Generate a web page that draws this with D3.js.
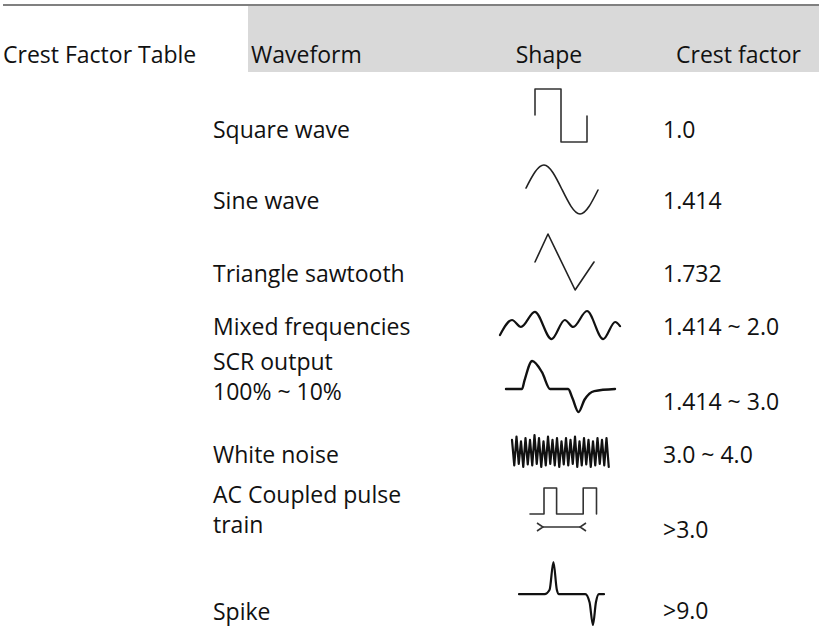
<!DOCTYPE html>
<html>
<head>
<meta charset="utf-8">
<script src="https://cdn.jsdelivr.net/npm/d3@7"></script>
<style>
  body { margin: 0; background: #fff; }
  text { font-family: "Open Sans", "Noto Sans", sans-serif; fill: #111; }
</style>
</head>
<body>
<div id="table"></div>
<script>
var width = 819,
    height = 626;

// table content
var title = "Crest Factor Table";
var headers = ["Waveform", "Shape", "Crest factor"];
var waveforms = [
    ["Square wave"],
    ["Sine wave"],
    ["Triangle sawtooth"],
    ["Mixed frequencies"],
    ["SCR output", "100% ~ 10%"],
    ["White noise"],
    ["AC Coupled pulse", "train"],
    ["Spike"]
];
var crestFactors = ["1.0", "1.414", "1.732", "1.414 ~ 2.0", "1.414 ~ 3.0", "3.0 ~ 4.0", ">3.0", ">9.0"];

// shape outlines, x 0..1 across, y 0 (bottom) .. 1 (top)
var squareWave = [[0, 0.51], [0, 1], [0.5, 1], [0.5, 0], [1, 0], [1, 0.49]];
var sineWave = [[0, 0.53], [0.25, 1], [0.5, 0.5], [0.75, 0], [1, 0.49]];
var triangleWave = [[0, 0.5], [0.22, 1], [0.68, 0], [1, 0.5]];
var mixedWave = [[0, 0.17], [0.1, 0.69], [0.175, 0.45], [0.29, 0.97], [0.43, 0.03], [0.54, 0.69],
    [0.61, 0.45], [0.725, 1], [0.86, 0.03], [0.96, 0.62], [1, 0.48]];
var scrWave = [[0, 0.45], [0.147, 0.45], [0.17, 0.62], [0.24, 1], [0.33, 0.78], [0.405, 0.45],
    [0.57, 0.45], [0.61, 0.27], [0.665, 0], [0.72, 0.24], [0.81, 0.41], [1, 0.45]];
var noiseTops = [0.85, 0.95, 0.8, 0.9, 0.85, 1, 0.9, 0.8, 0.95, 0.85, 0.9, 0.8, 0.9, 0.85, 0.95, 0.8, 0.9, 0.85, 0.8, 0.9, 0.85, 0.9];
var noiseBottoms = [0.05, 0.1, 0, 0.08, 0.05, 0.1, 0, 0.05, 0.1, 0.05, 0, 0.08, 0.05, 0.1, 0, 0.05, 0.08, 0, 0.05, 0.1, 0.05, 0];
var pulseTrain = [[0, 0], [0.2, 0], [0.2, 1], [0.38, 1], [0.38, 0], [0.76, 0], [0.76, 1], [0.95, 1], [0.95, 0]];
var spikeWave = [[0, 0.49], [0.3, 0.49], [0.36, 0.56], [0.405, 1], [0.445, 0.56], [0.47, 0.49],
    [0.78, 0.49], [0.83, 0.36], [0.87, 0], [0.905, 0.36], [0.94, 0.49], [1, 0.49]];

// layout
var rowY = [138, 209, 282, 335, 370, 463, 503, 620];
var lineGap = 30;
var valueY = [138, 209, 282, 335, 410, 463, 538, 619];

var svg = d3.select("#table")
    .append("svg")
    .attr("width", width)
    .attr("height", height);

svg.append("rect")
    .attr("x", 248).attr("y", 6)
    .attr("width", width - 248).attr("height", 66)
    .style("fill", "#d9d9d9");

svg.append("line")
    .attr("x1", 3).attr("x2", width)
    .attr("y1", 5).attr("y2", 5)
    .style("stroke", "#808080")
    .style("stroke-width", 2);

svg.append("text")
    .attr("x", 3).attr("y", 63)
    .style("font-size", "23px")
    .text(title);

var headerX = [251, 549, 676];
svg.selectAll(".header")
    .data(headers)
    .enter().append("text")
    .attr("class", "header")
    .attr("x", function(d, i) { return headerX[i]; })
    .attr("y", 63)
    .style("text-anchor", function(d, i) { return i == 1 ? "middle" : "start"; })
    .style("font-size", "23px")
    .text(function(d) { return d; });

var label = svg.selectAll(".label")
    .data(waveforms)
    .enter().append("text")
    .attr("class", "label")
    .style("font-size", "23px");

label.selectAll("tspan")
    .data(function(d, i) { return d.map(function(t) { return {t: t, row: i}; }); })
    .enter().append("tspan")
    .attr("x", 213)
    .attr("y", function(d, j) { return rowY[d.row] + j * lineGap; })
    .text(function(d) { return d.t; });

svg.selectAll(".value")
    .data(crestFactors)
    .enter().append("text")
    .attr("class", "value")
    .attr("x", 663)
    .attr("y", function(d, i) { return valueY[i]; })
    .style("font-size", "23px")
    .text(function(d) { return d; });

// draw a shape into its box
function drawShape(points, box, curve, stroke, sw) {
    var x = d3.scaleLinear().domain([0, 1]).range([box[0], box[1]]);
    var y = d3.scaleLinear().domain([0, 1]).range([box[3], box[2]]);
    var line = d3.line()
        .x(function(d) { return x(d[0]); })
        .y(function(d) { return y(d[1]); })
        .curve(curve);
    svg.append("path")
        .attr("d", line(points))
        .style("fill", "none")
        .style("stroke", stroke)
        .style("stroke-width", sw)
        .style("stroke-linejoin", "round")
        .style("stroke-linecap", "round");
}

drawShape(squareWave, [535, 587, 89, 142], d3.curveLinear, "#333", 1.6);
drawShape(sineWave, [526, 598, 165, 214], d3.curveNatural, "#222", 1.6);
drawShape(triangleWave, [535, 594, 234, 290], d3.curveLinear, "#222", 1.6);
drawShape(mixedWave, [500, 620, 311, 340], d3.curveMonotoneX, "#111", 2.2);
drawShape(scrWave, [506, 615, 361, 412], d3.curveMonotoneX, "#111", 2.4);

var noise = [];
noiseTops.forEach(function(t, i) {
    noise.push([i / noiseTops.length, t]);
    noise.push([(i + 0.5) / noiseTops.length, noiseBottoms[i]]);
});
drawShape(noise, [512, 611, 435, 467], d3.curveLinear, "#111", 2.2);

drawShape(pulseTrain, [530, 600, 488, 514], d3.curveLinear, "#333", 1.6);
drawShape(spikeWave, [519, 604, 562, 625], d3.curveMonotoneX, "#111", 2.2);

// double-headed arrow under pulse train
svg.append("defs").selectAll("marker")
    .data(["arrowhead"])
    .enter().append("marker")
    .attr("id", function(d) { return d; })
    .attr("viewBox", "0 -5 10 10")
    .attr("refX", 1).attr("refY", 0)
    .attr("markerUnits", "userSpaceOnUse")
    .attr("markerWidth", 10).attr("markerHeight", 10)
    .attr("orient", "auto-start-reverse")
    .append("path")
    .attr("d", "M7,-4L1,0L7,4")
    .style("fill", "none")
    .style("stroke", "#333")
    .style("stroke-width", 1.6);

svg.append("line")
    .attr("x1", 543).attr("x2", 580)
    .attr("y1", 527).attr("y2", 527)
    .style("stroke", "#333")
    .style("stroke-width", 1.5)
    .attr("marker-start", "url(#arrowhead)")
    .attr("marker-end", "url(#arrowhead)");
</script>
</body>
</html>
